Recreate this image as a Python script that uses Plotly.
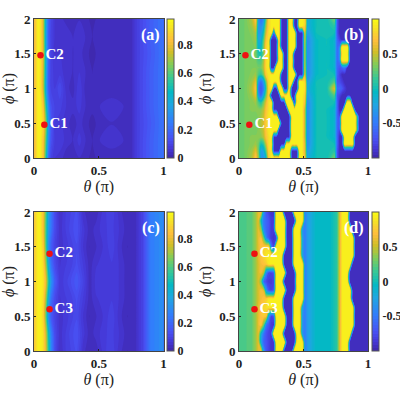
import plotly.graph_objects as go

PARULA = [[0, "#3e26a8"], [.0635, "#4537d5"], [.143, "#4852f4"], [.254, "#327cfc"], [.381, "#20a5e3"], [.476, "#02bac3"],
          [.571, "#37c897"], [.667, "#81cc59"], [.762, "#d1bf27"], [.841, "#febe3c"], [.92, "#f7dc2a"], [1, "#f9fb15"]]

# phase values at the two ends of the wrap
Y = .93
D = -.95

# panel (a), |amplitude|
theta_a = [0, .03, .05, .07, .09, .11, .13, .16, .2, .25, .3, .35, .4, .45, .5, .6, .7, .75, .8, .9, 1]
phi_a = [0, .25, .5, .75, 1, 1.25, 1.5, 1.75, 2]
z_a = [
    [.8, .95, .95, .85, .55, .22, .1, .06, .05, .03, .02, .04, .03, .01, .03, .03, .04, .03, .09, .17, .23],
    [.8, .95, .95, .85, .62, .3, .14, .08, .08, .05, .04, .07, .04, .02, .04, .05, .04, .03, .09, .17, .23],
    [.8, .95, .96, .9, .68, .35, .16, .08, .07, .05, .03, .05, .03, .01, .03, .04, .04, .03, .09, .16, .23],
    [.8, .95, .95, .85, .55, .28, .13, .1, .09, .06, .05, .07, .04, .03, .04, .05, .04, .03, .09, .17, .23],
    [.8, .95, .93, .75, .4, .18, .1, .08, .12, .05, .03, .08, .03, .02, .04, .03, .04, .03, .09, .17, .23],
    [.8, .95, .93, .76, .42, .18, .1, .07, .07, .05, .04, .06, .04, .02, .03, .04, .04, .03, .09, .17, .23],
    [.8, .95, .93, .78, .42, .2, .1, .06, .06, .06, .04, .05, .03, .01, .03, .04, .04, .03, .09, .16, .23],
    [.8, .95, .93, .76, .4, .18, .1, .06, .06, .06, .04, .05, .04, .02, .03, .04, .04, .03, .09, .17, .23],
    [.8, .95, .93, .76, .4, .2, .11, .06, .05, .03, .03, .04, .03, .01, .03, .03, .04, .03, .09, .17, .23],
]

# panel (b), phase
theta_b = [0, .05, .1, .13, .15, .17, .19, .21, .23, .25, .27, .29, .31, .33, .35, .37, .39, .41, .43, .45, .47, .49, .51, .53,
           .6, .68, .74, .76, .78, .8, .82, .84, .86, .88, .9, .93, 1]
phi_b = [0, .1, .2, .3, .4, .5, .6, .7, .8, .9, 1, 1.1, 1.2, 1.3, 1.4, 1.5, 1.6, 1.7, 1.8, 1.9, 2]
z_b = [
    [.25, .3, .45, .75, .4, -.3, -.3, -.1, .7, Y, Y, Y, Y, Y, Y, Y, Y, D, D, D, Y, Y, .7, -.2, 0, 0, .3, -.7, D, D, D, D, D, D, D, D, D],
    [.25, .3, .4, .6, .3, -.3, -.2, .2, .8, Y, D, D, D, Y, Y, Y, Y, D, D, D, Y, Y, .6, -.3, 0, 0, .1, -.7, D, D, D, D, D, D, D, D, D],
    [.25, .3, .35, .4, .3, 0, .1, .5, .85, Y, D, D, D, D, D, Y, Y, Y, Y, Y, Y, Y, .6, -.4, 0, 0, 0, -.6, D, D, Y, Y, Y, Y, D, D, D],
    [.25, .3, .35, .35, .35, .35, .45, .7, .85, Y, D, D, D, D, D, D, D, Y, Y, Y, Y, Y, .5, -.4, 0, 0, -.1, -.6, D, D, Y, Y, Y, Y, D, D, D],
    [.25, .3, .3, .3, .35, .4, .5, .75, .9, Y, Y, Y, D, D, D, D, D, Y, Y, Y, Y, Y, .5, -.4, 0, 0, -.1, -.6, -.8, Y, Y, Y, Y, Y, Y, D, D],
    [.25, .3, .3, .3, .35, .45, .55, .8, .9, Y, Y, Y, Y, D, D, D, D, Y, Y, Y, Y, Y, .5, -.4, 0, 0, -.1, -.6, -.7, Y, Y, Y, Y, Y, Y, D, D],
    [.25, .3, .3, .3, .35, .4, .5, .75, .9, Y, Y, Y, D, D, D, D, D, Y, Y, Y, Y, Y, .5, -.4, 0, 0, -.1, -.6, -.8, Y, Y, Y, Y, Y, Y, D, D],
    [.25, .3, .35, .35, .35, .35, .45, .7, .85, Y, D, D, D, D, D, D, Y, Y, Y, Y, Y, Y, .5, -.4, 0, 0, -.1, -.6, D, D, Y, Y, Y, Y, D, D, D],
    [.25, .3, .35, .4, .2, .05, .3, .6, .85, Y, D, D, D, D, D, Y, Y, Y, D, Y, Y, Y, .7, -.4, 0, 0, 0, -.6, D, D, D, Y, Y, D, D, D, D],
    [.25, .3, .4, .6, -.3, -.6, -.2, .3, .8, D, D, D, D, Y, Y, Y, Y, D, D, Y, Y, Y, .8, -.3, 0, 0, .2, -.7, -.8, D, D, D, D, D, D, D, D],
    [.25, .3, .45, .7, -.5, -.7, -.5, .1, .8, Y, D, D, Y, Y, D, D, Y, D, D, D, Y, Y, .9, -.2, 0, 0, .6, -.6, -.6, -.7, -.85, D, D, D, D, D, D],
    [.25, .3, .4, .6, -.3, -.6, -.3, .3, .85, Y, Y, Y, Y, D, D, D, Y, Y, D, D, Y, Y, .85, -.3, 0, 0, .2, -.7, -.75, -.85, D, D, D, D, D, D, D],
    [.25, .3, .35, .4, .2, .1, .3, .75, .9, Y, Y, Y, Y, D, D, D, Y, Y, Y, D, D, D, .6, -.4, -.05, 0, 0, -.6, -.8, D, D, D, D, D, D, D, D],
    [.25, .3, .33, .33, .3, .3, .45, .85, Y, D, D, Y, Y, Y, D, D, Y, Y, D, D, D, D, .5, -.4, -.05, 0, -.1, -.6, -.7, -.6, -.5, D, D, D, D, D, D],
    [.25, .3, .3, .3, .2, .2, .4, .85, Y, D, D, D, Y, Y, D, D, Y, Y, D, D, D, D, .45, -.4, -.05, 0, -.1, -.6, -.5, Y, Y, Y, D, D, D, D, D],
    [.25, .3, .3, .3, .05, 0, .3, .85, Y, D, D, D, Y, Y, D, D, Y, Y, D, D, D, D, .45, -.4, -.05, 0, -.1, -.6, -.4, Y, Y, Y, D, D, D, D, D],
    [.25, .3, .3, .35, -.1, -.1, .3, .8, Y, D, D, D, Y, D, D, D, Y, Y, Y, D, D, D, .45, -.4, -.05, 0, -.1, -.6, -.5, Y, Y, Y, D, D, D, D, D],
    [.25, .3, .33, .4, -.2, -.2, .2, .7, .9, D, D, D, Y, D, D, D, Y, Y, Y, D, D, D, .5, -.4, -.05, 0, -.1, -.6, -.8, D, D, D, D, D, D, D, D],
    [.25, .3, .35, .45, -.3, -.3, 0, .55, .85, Y, -.7, Y, Y, D, D, D, Y, Y, Y, D, D, D, .6, -.3, 0, 0, 0, -.7, D, D, D, D, D, D, D, D, D],
    [.25, .3, .4, .6, -.3, -.4, -.2, .4, .8, Y, Y, Y, Y, D, D, D, Y, Y, D, D, Y, Y, .8, -.2, 0, 0, .1, -.7, D, D, D, D, D, D, D, D, D],
    [.25, .3, .45, .75, -.3, -.6, -.4, .2, .8, Y, Y, Y, Y, D, D, D, Y, Y, D, D, Y, Y, .85, -.2, 0, 0, .3, -.7, D, D, D, D, D, D, D, D, D],
]

# panel (c), |amplitude|
theta_c = [0, .03, .05, .07, .09, .11, .13, .16, .2, .24, .28, .33, .38, .43, .48, .55, .6, .66, .72, .78, .84, .9, .95, 1]
phi_c = [0, .25, .5, .75, 1, 1.25, 1.5, 1.75, 2]
z_c = [
    [.85, .96, .97, .93, .8, .55, .3, .12, .04, .08, .1, .13, .05, .02, .03, .08, .1, .05, .02, .03, .1, .25, .28, .31],
    [.85, .96, .97, .93, .78, .5, .28, .12, .05, .08, .11, .14, .07, .03, .05, .08, .09, .06, .03, .03, .1, .25, .28, .31],
    [.85, .96, .97, .9, .65, .32, .17, .1, .05, .07, .09, .12, .06, .02, .04, .07, .1, .05, .02, .03, .1, .25, .28, .31],
    [.85, .96, .97, .92, .72, .42, .23, .12, .06, .08, .09, .13, .08, .03, .06, .07, .08, .06, .03, .03, .1, .25, .28, .31],
    [.85, .96, .97, .94, .82, .55, .34, .17, .07, .09, .12, .16, .1, .03, .07, .08, .08, .06, .03, .03, .1, .25, .28, .31],
    [.85, .96, .97, .92, .72, .42, .23, .12, .06, .08, .09, .13, .08, .03, .06, .07, .08, .06, .03, .03, .1, .25, .28, .31],
    [.85, .96, .97, .88, .62, .32, .18, .1, .05, .07, .09, .12, .06, .02, .04, .07, .1, .05, .02, .03, .1, .25, .28, .31],
    [.85, .96, .95, .84, .6, .36, .24, .12, .05, .08, .11, .14, .07, .03, .05, .08, .09, .06, .03, .03, .1, .25, .28, .31],
    [.85, .96, .95, .84, .62, .38, .25, .12, .04, .08, .1, .13, .05, .02, .03, .08, .1, .05, .02, .03, .1, .25, .28, .31],
]

# panel (d), phase
theta_d = [0, .05, .1, .13, .15, .17, .19, .21, .23, .25, .27, .29, .31, .33, .35, .37, .39, .41, .43, .45, .47, .49, .51, .53,
           .6, .7, .76, .78, .8, .82, .84, .86, .88, .9, .95, 1]
phi_d = [0, .125, .25, .375, .5, .625, .75, .875, 1, 1.125, 1.25, 1.375, 1.5, 1.625, 1.75, 1.875, 2]
z_d = [
    [.2, .2, .25, .4, .6, .7, -.3, -.7, -.8, -.9, -.9, Y, Y, Y, D, D, D, D, Y, Y, Y, Y, -.5, -.3, -.05, -.08, .1, .55, Y, Y, Y, D, D, D, D, D],
    [.2, .2, .25, .4, .6, -.2, -.6, -.7, -.8, -.9, -.9, Y, Y, Y, Y, D, D, D, D, Y, Y, Y, -.5, -.3, -.05, -.08, .1, .55, Y, Y, Y, D, D, D, D, D],
    [.2, .2, .25, .4, .6, -.1, -.5, -.7, -.8, -.85, Y, Y, Y, Y, D, D, D, D, D, Y, Y, -.3, -.5, -.3, -.05, -.08, .1, .55, Y, Y, Y, Y, D, D, D, D],
    [.2, .2, .25, .4, .6, .75, .3, -.5, -.7, -.85, -.9, Y, Y, Y, Y, D, D, D, Y, Y, Y, -.3, -.5, -.3, -.05, -.08, .1, .55, Y, Y, Y, Y, Y, D, D, D],
    [.2, .2, .25, .4, .6, .7, .75, .7, -.3, -.8, -.7, Y, Y, Y, Y, D, D, D, Y, Y, Y, -.3, -.5, -.3, -.05, -.08, .1, .55, Y, Y, Y, Y, Y, D, D, D],
    [.2, .2, .25, .4, .6, .7, .8, .85, .9, Y, Y, Y, Y, Y, D, D, D, D, Y, Y, Y, -.2, -.5, -.3, -.05, -.08, .1, .55, Y, Y, Y, Y, Y, D, D, D],
    [.2, .2, .25, .4, .55, .65, .7, .75, .9, Y, Y, Y, Y, Y, D, D, D, D, Y, Y, Y, Y, -.5, -.3, -.05, -.08, .1, .55, Y, Y, Y, Y, D, D, D, D],
    [.2, .2, .25, .4, .55, .65, .6, -.3, -.7, -.8, -.7, Y, Y, Y, Y, D, D, D, D, Y, Y, Y, -.5, -.3, -.05, -.08, .1, .55, Y, Y, Y, Y, D, D, D, D],
    [.2, .2, .25, .4, .55, .3, -.6, -.75, -.85, -.85, -.8, Y, Y, Y, D, D, D, D, D, Y, Y, Y, -.5, -.3, -.05, -.08, .1, .55, Y, Y, Y, D, D, D, D, D],
    [.2, .2, .25, .4, .55, .65, .5, -.4, -.75, -.8, -.7, Y, Y, Y, Y, D, D, D, D, Y, Y, Y, -.5, -.3, -.05, -.08, .1, .55, Y, Y, Y, D, D, D, D, D],
    [.2, .2, .25, .4, .55, .65, .7, .75, .9, Y, Y, Y, Y, Y, D, D, D, D, Y, Y, Y, Y, -.5, -.3, -.05, -.08, .1, .55, Y, Y, Y, Y, D, D, D, D],
    [.2, .2, .25, .4, .6, .7, .8, .9, Y, Y, Y, Y, Y, Y, D, D, D, D, Y, Y, Y, -.2, -.5, -.3, -.05, -.08, .1, .55, Y, Y, Y, Y, Y, D, D, D],
    [.2, .2, .25, .4, .6, .7, .75, .8, .8, -.5, -.8, Y, Y, Y, Y, D, D, D, Y, Y, Y, -.2, -.5, -.3, -.05, -.08, .1, .55, Y, Y, Y, Y, Y, D, D, D],
    [.2, .2, .25, .4, .6, .7, .3, -.4, -.7, -.85, -.9, -.8, Y, Y, Y, D, D, D, Y, Y, Y, -.2, -.5, -.3, -.05, -.08, .1, .55, Y, Y, Y, Y, Y, D, D, D],
    [.2, .2, .25, .4, .6, .4, -.4, -.6, -.7, -.85, -.85, Y, Y, Y, Y, D, D, D, Y, Y, Y, -.3, -.5, -.3, -.05, -.08, .1, .55, Y, Y, Y, Y, D, D, D, D],
    [.2, .2, .25, .4, .6, 0, -.5, -.6, -.7, -.85, -.85, Y, Y, Y, Y, D, D, D, D, Y, Y, Y, -.5, -.3, -.05, -.08, .1, .55, Y, Y, Y, D, D, D, D, D],
    [.2, .2, .25, .4, .6, .7, -.3, -.7, -.8, -.9, -.9, Y, Y, Y, D, D, D, D, Y, Y, Y, Y, -.5, -.3, -.05, -.08, .1, .55, Y, Y, Y, D, D, D, D, D],
]

points_top_x = [.08, .05]
points_top_y = [.48, 1.48]
points_top_text = ["C1", "C2"]
points_bot_x = [.12, .12]
points_bot_y = [.6, 1.4]
points_bot_text = ["C3", "C2"]

FONT = "Liberation Serif"
W, H = 400, 400

fig = go.Figure()


def add_panel(n, tag, theta, phi, z, zmin, zmax, ticks, px, py, px_, py_, cb_x, pts_x, pts_y, pts_text):
    x_name = "x" if n == 1 else f"x{n}"
    y_name = "y" if n == 1 else f"y{n}"
    fig.add_trace(go.Contour(
        x=theta, y=phi, z=z, zmin=zmin, zmax=zmax,
        colorscale=PARULA, line=dict(width=0, smoothing=1),
        contours=dict(coloring="fill", start=zmin, end=zmax, size=(zmax - zmin) / 48, showlines=False),
        xaxis=x_name, yaxis=y_name, hoverinfo="skip",
        colorbar=dict(
            x=cb_x / W, xanchor="left", xpad=0, thickness=7,
            y=1 - py_ / H, yanchor="bottom", ypad=0, len=(py_ - py) / H,
            tickvals=ticks, ticktext=[f"{t:g}" for t in ticks], ticks="",
            outlinecolor="#555555", outlinewidth=1,
            tickfont=dict(family=FONT, size=12, color="#222222", weight=700),
        ),
    ))
    fig.add_trace(go.Scatter(
        x=pts_x, y=pts_y, text=pts_text, mode="markers+text", textposition="middle right",
        marker=dict(size=6.5, color="#ee1111"),
        textfont=dict(family=FONT, size=15, color="white", weight=700),
        xaxis=x_name, yaxis=y_name, showlegend=False, hoverinfo="skip",
    ))
    axis = dict(
        showgrid=False, zeroline=False, showline=True, mirror=True, linecolor="#444444", linewidth=1,
        ticks="inside", ticklen=2, tickcolor="#222222",
        tickfont=dict(family=FONT, size=13, color="#222222", weight=700),
    )
    fig.layout[f"xaxis{'' if n == 1 else n}"] = dict(
        axis, domain=[px / W, px_ / W], range=[0, 1], anchor=y_name,
        tickvals=[0, .5, 1], ticktext=["0", "0.5", "1"],
        title=dict(text="<i>θ</i> (π)", font=dict(family=FONT, size=16, color="#222222"), standoff=4),
    )
    fig.layout[f"yaxis{'' if n == 1 else n}"] = dict(
        axis, domain=[1 - py_ / H, 1 - py / H], range=[0, 2], anchor=x_name,
        tickvals=[0, .5, 1, 1.5, 2], ticktext=["0", "0.5", "1", "1.5", "2"],
        title=dict(text="<i>ϕ</i> (π)", font=dict(family=FONT, size=16, color="#222222"), standoff=3),
    )
    fig.add_annotation(
        x=px_ / W - .004, y=1 - py / H - .012, xref="paper", yref="paper", text=tag, showarrow=False,
        xanchor="right", yanchor="top", font=dict(family=FONT, size=16, color="white", weight=700),
    )


add_panel(1, "(a)", theta_a, phi_a, z_a, 0, .98, [0, .2, .4, .6, .8], 34, 19, 163.5, 158, 167, points_top_x, points_top_y, points_top_text)
add_panel(2, "(b)", theta_b, phi_b, z_b, -1, 1, [-.5, 0, .5], 239, 19, 368, 158, 371.5, points_top_x, points_top_y, points_top_text)
add_panel(3, "(c)", theta_c, phi_c, z_c, 0, .99, [0, .2, .4, .6, .8], 34, 212, 163.5, 351, 167, points_bot_x, points_bot_y, points_bot_text)
add_panel(4, "(d)", theta_d, phi_d, z_d, -1, 1, [-.5, 0, .5], 239, 212, 368, 351, 371.5, points_bot_x, points_bot_y, points_bot_text)

fig.update_layout(width=W, height=H, margin=dict(l=0, r=0, t=0, b=0, autoexpand=False), paper_bgcolor="white", plot_bgcolor="white", showlegend=False)
fig.write_html("out.html", config={"displayModeBar": False}, post_script="document.body.style.margin='0';document.documentElement.style.overflow='hidden';")
